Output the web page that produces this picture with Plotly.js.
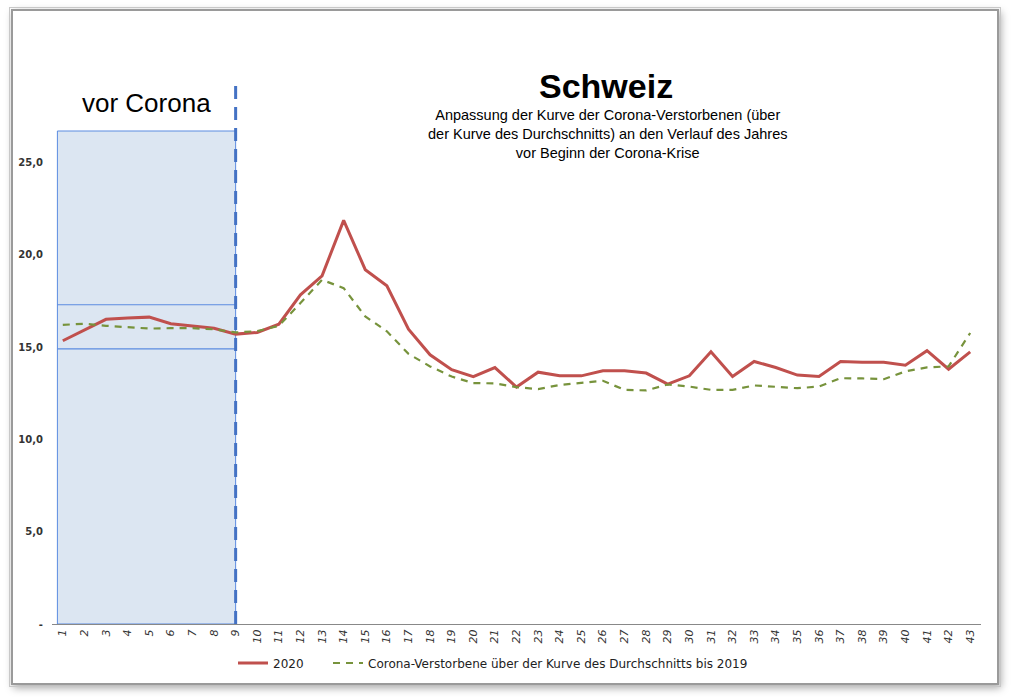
<!DOCTYPE html>
<html>
<head>
<meta charset="utf-8">
<script src="https://cdn.plot.ly/plotly-3.0.1.min.js"></script>
<style>
  html, body { margin: 0; padding: 0; background: #ffffff; }
  #wrap { position: relative; width: 1011px; height: 697px; overflow: hidden; background: #fff; }
  #chart { position: absolute; left: 0; top: 0; width: 1011px; height: 697px; }
  #frame { position: absolute; left: 11px; top: 9px; width: 984px; height: 672px;
           border: 2px solid #9a9a9a; outline: 1px solid #c8c8c8; outline-offset: 1px;
           box-shadow: 2px 3px 8px rgba(0,0,0,0.35); pointer-events: none; }
</style>
</head>
<body>
<div id="wrap">
  <div id="frame"></div>
  <div id="chart"></div>
</div>
<script>
// ---- Data ----
const weeks = [1,2,3,4,5,6,7,8,9,10,11,12,13,14,15,16,17,18,19,20,21,22,23,24,25,26,27,28,29,30,31,32,33,34,35,36,37,38,39,40,41,42,43];
const deaths2020 = [15.34,15.93,16.5,16.57,16.62,16.26,16.15,16.02,15.7,15.79,16.24,17.83,18.86,21.86,19.19,18.32,15.97,14.58,13.77,13.4,13.89,12.83,13.64,13.44,13.44,13.71,13.71,13.59,12.99,13.44,14.74,13.4,14.22,13.89,13.48,13.4,14.22,14.17,14.17,14.02,14.8,13.8,14.74];
const avgAdjusted = [16.2,16.26,16.15,16.06,16.0,16.02,16.02,15.96,15.79,15.86,16.15,17.38,18.64,18.19,16.66,15.85,14.63,13.95,13.4,13.05,13.03,12.83,12.72,12.95,13.04,13.17,12.68,12.65,12.97,12.86,12.68,12.68,12.92,12.86,12.77,12.86,13.31,13.3,13.26,13.68,13.9,13.95,15.76];
const yTickVals = [0,5,10,15,20,25];
const yTickText = ['-','5,0','10,0','15,0','20,0','25,0'];
const seriesNames = ['2020','Corona-Verstorbene über der Kurve des Durchschnitts bis 2019'];
const preCoronaEnd = 9;
const preCoronaBand = [14.9, 17.29];
const preCoronaBoxTop = 26.7;
const yMax = 29.3;

// ---- Layout geometry ----
const W = 1011, H = 697;
const M = {l: 52, r: 30, t: 83, b: 73};
const pw = W - M.l - M.r, ph = H - M.t - M.b;
const px = x => (x - M.l) / pw;
const py = y => (H - M.b - y) / ph;

const shapes = [
  {type:'rect', xref:'x', yref:'y', x0:0.75, x1:preCoronaEnd, y0:0, y1:preCoronaBoxTop,
   fillcolor:'#DCE6F2', line:{color:'#5B8BE0', width:1}, layer:'below'},
  {type:'line', xref:'x', yref:'y', x0:0.75, x1:preCoronaEnd, y0:preCoronaBand[0], y1:preCoronaBand[0],
   line:{color:'#5B8BE0', width:1.2}, layer:'below'},
  {type:'line', xref:'x', yref:'y', x0:0.75, x1:preCoronaEnd, y0:preCoronaBand[1], y1:preCoronaBand[1],
   line:{color:'#5B8BE0', width:1.2}, layer:'below'},
  {type:'line', xref:'x', yref:'y', x0:preCoronaEnd, x1:preCoronaEnd, y0:0, y1:yMax,
   line:{color:'#4472C4', width:3, dash:'13px,8px'}, layer:'above'}
];

const annotations = [
  {xref:'paper', yref:'paper', x:px(606), y:py(86), text:'<b>Schweiz</b>', showarrow:false,
   font:{family:'Liberation Sans, Arial, sans-serif', size:34, color:'#000'}, xanchor:'center', yanchor:'middle'},
  {xref:'paper', yref:'paper', x:px(607), y:py(134), showarrow:false,
   text:'Anpassung der Kurve der Corona-Verstorbenen (über<br>der Kurve des Durchschnitts) an den Verlauf des Jahres<br>vor Beginn der Corona-Krise',
   font:{family:'Liberation Sans, Arial, sans-serif', size:14.5, color:'#000'}, xanchor:'center', yanchor:'middle', align:'center'},
  {xref:'paper', yref:'paper', x:px(146), y:py(103), text:'vor Corona', showarrow:false,
   font:{family:'Liberation Sans, Arial, sans-serif', size:26, color:'#000'}, xanchor:'center', yanchor:'middle'}
];

const traces = [
  {x: weeks, y: deaths2020, name: seriesNames[0], type:'scatter', mode:'lines',
   line:{color:'#C0504D', width:3}, legend:'legend'},
  {x: weeks, y: avgAdjusted, name: seriesNames[1], type:'scatter', mode:'lines',
   line:{color:'#77933C', width:2.2, dash:'7px,6px'}, legend:'legend2'}
];

const legendFont = {family:'DejaVu Sans, sans-serif', size:12, color:'#222'};
const layout = {
  width: W, height: H,
  margin: M,
  paper_bgcolor: 'rgba(0,0,0,0)',
  plot_bgcolor: 'rgba(0,0,0,0)',
  showlegend: true,
  legend: {orientation:'h', x: px(233), y: py(663), xanchor:'left', yanchor:'middle',
           font: legendFont, bgcolor:'rgba(0,0,0,0)'},
  legend2: {orientation:'h', x: px(328), y: py(663), xanchor:'left', yanchor:'middle',
           font: legendFont, bgcolor:'rgba(0,0,0,0)'},
  xaxis: {range:[0.5, 43.5], tickvals: weeks, ticktext: weeks.map(String), tickangle:-90,
          showgrid:false, zeroline:false, showline:true, linecolor:'#888', linewidth:1,
          ticks:'', tickfont:{family:'DejaVu Sans, sans-serif', size:11, color:'#333', style:'italic'}},
  yaxis: {range:[0, yMax], tickvals: yTickVals, ticktext: yTickText, showgrid:false, zeroline:false,
          showline:false, ticks:'', ticklabelstandoff: 8,
          tickfont:{family:'DejaVu Sans, sans-serif', size:10, color:'#333', weight:'bold'}},
  shapes: shapes,
  annotations: annotations
};

Plotly.newPlot('chart', traces, layout, {displayModeBar:false, staticPlot:true});
</script>
</body>
</html>
